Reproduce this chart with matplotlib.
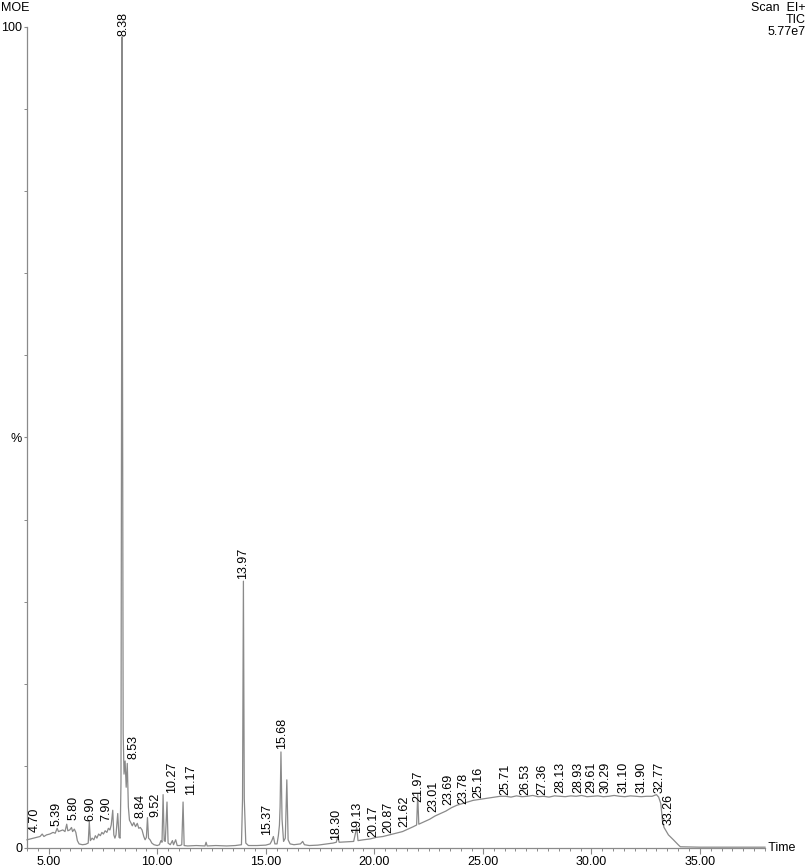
import matplotlib
matplotlib.use('Agg')
import matplotlib.pyplot as plt
from matplotlib.ticker import MultipleLocator, FixedLocator

plt.rcParams['font.family'] = ['Liberation Sans', 'DejaVu Sans']

# TIC trace (time in min, relative intensity in %)
times = [4.00, 4.15, 4.30, 4.45, 4.60, 4.70, 4.78, 4.90, 5.05, 5.20, 5.30, 5.39, 5.45, 5.55,
         5.65, 5.75, 5.83, 5.88, 5.97, 6.05, 6.10, 6.18, 6.25, 6.32, 6.40, 6.55, 6.70, 6.82,
         6.87, 6.92, 7.00, 7.08, 7.15, 7.22, 7.30, 7.38, 7.45, 7.52, 7.60, 7.68, 7.75, 7.82,
         7.88, 7.95, 8.00, 8.05, 8.10, 8.18, 8.24, 8.29, 8.33, 8.36, 8.38, 8.40, 8.43, 8.47,
         8.52, 8.57, 8.62, 8.67, 8.72, 8.78, 8.85, 8.92, 9.00, 9.08, 9.15, 9.22, 9.30, 9.38,
         9.44, 9.50, 9.55, 9.60, 9.67, 9.75, 9.85, 10.00, 10.10, 10.17, 10.22, 10.27, 10.32,
         10.37, 10.45, 10.50, 10.60, 10.70, 10.75, 10.85, 10.92, 11.05, 11.13, 11.19, 11.24,
         11.40, 11.80, 12.20, 12.25, 12.30, 12.70, 13.20, 13.60, 13.88, 13.93, 13.97, 14.01,
         14.08, 14.20, 14.60, 15.00, 15.20, 15.28, 15.35, 15.42, 15.52, 15.58, 15.63, 15.66,
         15.70, 15.75, 15.82, 15.90, 15.97, 16.03, 16.12, 16.30, 16.60, 16.70, 16.78, 17.00,
         17.40, 17.80, 18.10, 18.25, 18.32, 18.38, 18.70, 19.05, 19.19, 19.25, 19.50, 19.80,
         20.10, 20.40, 20.70, 21.00, 21.30, 21.55, 21.80, 21.95, 22.00, 22.05, 22.30, 22.55,
         22.80, 23.05, 23.30, 23.55, 23.80, 24.05, 24.30, 24.55, 24.80, 25.05, 25.30, 25.55,
         25.80, 26.05, 26.30, 26.55, 26.80, 27.05, 27.30, 27.55, 27.80, 28.05, 28.30, 28.55,
         28.80, 29.05, 29.30, 29.55, 29.80, 30.05, 30.30, 30.55, 30.80, 31.05, 31.30, 31.55,
         31.80, 32.05, 32.30, 32.55, 32.80, 33.00, 33.10, 33.20, 33.28, 33.35, 33.55, 33.78,
         34.00, 34.10, 35.00, 38.00]
tic = [1.0, 1.1, 1.2, 1.3, 1.4, 1.7, 1.4, 1.6, 1.7, 1.9, 1.8, 2.4, 2.0, 2.1,
       2.2, 2.0, 2.9, 2.1, 2.2, 2.5, 2.0, 2.3, 1.9, 0.9, 0.5, 0.4, 0.45, 0.6,
       3.2, 0.9, 1.2, 1.0, 1.5, 1.2, 1.7, 1.5, 1.9, 1.7, 2.1, 1.9, 2.4, 2.2,
       2.8, 4.6, 1.6, 1.2, 1.6, 4.2, 1.3, 1.2, 8.0, 60.0, 98.8, 60.0, 14.0, 9.0,
       10.6, 7.4, 10.3, 5.0, 3.4, 3.1, 2.7, 3.1, 2.6, 3.0, 2.4, 2.5, 2.2, 1.4,
       1.0, 1.3, 3.7, 1.2, 1.0, 0.6, 0.4, 0.3, 0.4, 0.9, 0.7, 6.5, 0.9,
       0.8, 5.6, 0.6, 0.4, 0.9, 0.4, 1.0, 0.3, 0.3, 0.4, 5.6, 0.3,
       0.25, 0.3, 0.25, 0.7, 0.25, 0.3, 0.25, 0.3, 0.4, 6.0, 32.5, 6.0,
       0.6, 0.3, 0.3, 0.35, 0.5, 0.9, 1.4, 0.5, 0.5, 1.5, 2.8, 5.0,
       11.7, 3.5, 0.8, 1.2, 8.3, 1.0, 0.5, 0.4, 0.5, 0.8, 0.4, 0.3,
       0.35, 0.5, 0.6, 0.7, 1.4, 0.7, 0.75, 0.8, 2.5, 0.9, 1.0, 1.1,
       1.3, 1.4, 1.6, 1.8, 2.0, 2.3, 2.6, 2.8, 6.5, 2.9, 3.2, 3.5,
       3.9, 4.2, 4.5, 4.9, 5.2, 5.4, 5.6, 5.8, 5.9, 6.0, 6.1, 6.2,
       6.3, 6.3, 6.2, 6.35, 6.25, 6.3, 6.4, 6.25, 6.3, 6.2, 6.35, 6.3,
       6.25, 6.35, 6.3, 6.4, 6.25, 6.3, 6.35, 6.25, 6.3, 6.4, 6.3, 6.25,
       6.35, 6.3, 6.25, 6.3, 6.3, 6.5, 6.2, 5.4, 3.2, 2.5, 1.6, 1.0,
       0.4, 0.15, 0.1, 0.1]

# peak annotations: text, where the label sits (time) and its base height (%)
peak_labels = ['4.70', '5.39', '5.80', '6.90', '7.90', '8.38', '8.53', '8.84', '9.52', '10.27',
               '11.17', '13.97', '15.37', '15.68', '18.30', '19.13', '20.17', '20.87', '21.62',
               '21.97', '23.01', '23.69', '23.78', '25.16', '25.71', '26.53', '27.36', '28.13',
               '28.93', '29.61', '30.29', '31.10', '31.90', '32.77', '33.26']
label_t = [4.37, 5.38, 6.13, 6.90, 7.67, 8.44, 8.90, 9.21, 9.90, 10.70,
           11.56, 13.95, 15.05, 15.74, 18.24, 19.19, 19.96, 20.65, 21.37,
           22.03, 22.72, 23.42, 24.11, 24.80, 26.03, 26.95, 27.72, 28.56,
           29.41, 30.02, 30.64, 31.48, 32.33, 33.12, 33.55]
label_h = [1.9, 2.7, 3.4, 3.3, 3.3, 98.9, 10.9, 3.6, 3.8, 6.7,
           6.5, 32.8, 1.6, 12.1, 1.0, 1.8, 1.4, 1.8, 2.6,
           5.6, 4.4, 5.2, 5.4, 6.1, 6.5, 6.5, 6.5, 6.7,
           6.7, 6.7, 6.7, 6.7, 6.7, 6.7, 2.8]

W, H = 809, 867
fig = plt.figure(figsize=(W / 100, H / 100), dpi=100)
ax = fig.add_axes([27 / W, (H - 848) / H, 738 / W, 821 / H])

grey = '#8a8a8a'
ax.plot(times, tic, color=grey, lw=0.9, clip_on=False)

for txt, t, h in zip(peak_labels, label_t, label_h):
    ax.text(t, h, txt, rotation=90, ha='center', va='bottom', fontsize=9, color='black')

ax.set_xlim(4, 38)
ax.set_ylim(0, 100)

for s in ['top', 'right']:
    ax.spines[s].set_visible(False)
for s in ['left', 'bottom']:
    ax.spines[s].set_color(grey)
    ax.spines[s].set_linewidth(0.9)

ax.xaxis.set_major_locator(FixedLocator([5, 10, 15, 20, 25, 30, 35]))
ax.set_xticklabels(['5.00', '10.00', '15.00', '20.00', '25.00', '30.00', '35.00'])
ax.xaxis.set_minor_locator(MultipleLocator(0.5))
ax.set_yticks([0, 50, 100])
ax.set_yticklabels(['0', '%', '100'])
ax.yaxis.set_minor_locator(MultipleLocator(10))

ax.tick_params(axis='x', which='major', length=4, width=0.8, color=grey, pad=2, labelsize=9)
ax.tick_params(axis='x', which='minor', length=2.5, width=0.7, color=grey)
ax.tick_params(axis='y', which='major', length=2.5, width=0.8, color=grey, pad=1, labelsize=9)
ax.tick_params(axis='y', which='minor', length=2, width=0.7, color=grey)

ax.text(1.0, 0, ' Time', transform=ax.transAxes, ha='left', va='center', fontsize=9)

fig.text(1 / W, 1 - 2 / H, 'MOE', ha='left', va='top', fontsize=9)
fig.text(806 / W, 1 - 2 / H, 'Scan  EI+', ha='right', va='top', fontsize=9)
fig.text(806 / W, 1 - 14 / H, 'TIC', ha='right', va='top', fontsize=9)
fig.text(806 / W, 1 - 26 / H, '5.77e7', ha='right', va='top', fontsize=9)

fig.savefig('out.png', dpi=100)
